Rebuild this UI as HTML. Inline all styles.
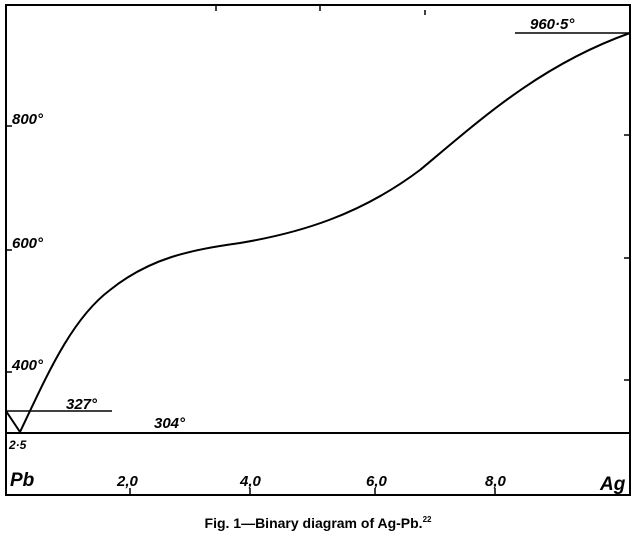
<!DOCTYPE html>
<html><head><style>body{margin:0;background:#fff}</style></head><body>
<svg width="636" height="548" xmlns="http://www.w3.org/2000/svg" font-family="Liberation Sans, sans-serif" font-style="italic" font-weight="bold">
<rect x="6" y="5" width="624" height="490" fill="none" stroke="#000" stroke-width="2"/>
<line x1="6" y1="433" x2="630" y2="433" stroke="#000" stroke-width="2"/>
<line x1="6" y1="411" x2="112" y2="411" stroke="#000" stroke-width="1.5"/>
<line x1="515" y1="33" x2="630" y2="33" stroke="#000" stroke-width="1.5"/>
<polyline points="6,411 20,432" fill="none" stroke="#000" stroke-width="2"/>
<path d="M20,432 C45,380 70,320 110,290 C150,258 190,250 240,243 C300,233 360,215 420,170 C480,120 540,65 630,33" fill="none" stroke="#000" stroke-width="2"/>
<g stroke="#000" stroke-width="1.5">
<line x1="216" y1="5" x2="216" y2="11"/><line x1="320" y1="5" x2="320" y2="11"/><line x1="425" y1="10" x2="425" y2="15"/>
<line x1="624" y1="135" x2="630" y2="135"/><line x1="624" y1="380" x2="630" y2="380"/><line x1="624" y1="258" x2="630" y2="258"/>
<line x1="6" y1="126" x2="12" y2="126"/><line x1="6" y1="250" x2="12" y2="250"/><line x1="6" y1="372" x2="12" y2="372"/>
<line x1="130" y1="488" x2="130" y2="495"/><line x1="250" y1="488" x2="250" y2="495"/><line x1="375" y1="488" x2="375" y2="495"/><line x1="495" y1="488" x2="495" y2="495"/>
</g>
<g font-size="15" fill="#000">
<text x="12" y="124">800°</text>
<text x="12" y="248">600°</text>
<text x="12" y="370">400°</text>
<text x="66" y="409">327°</text>
<text x="154" y="428">304°</text>
<text x="530" y="29">960·5°</text>
<text x="9" y="449" font-size="12">2·5</text>
<text x="10" y="486" font-size="19">Pb</text>
<text x="117" y="486">2,0</text>
<text x="240" y="486">4,0</text>
<text x="366" y="486">6,0</text>
<text x="485" y="486">8,0</text>
<text x="600" y="490" font-size="19">Ag</text>
</g>
<text x="318" y="528" text-anchor="middle" font-size="14" font-style="normal" fill="#000">Fig. 1—Binary diagram of Ag-Pb.<tspan font-size="8" dy="-6">22</tspan></text>
</svg>
</body></html>
